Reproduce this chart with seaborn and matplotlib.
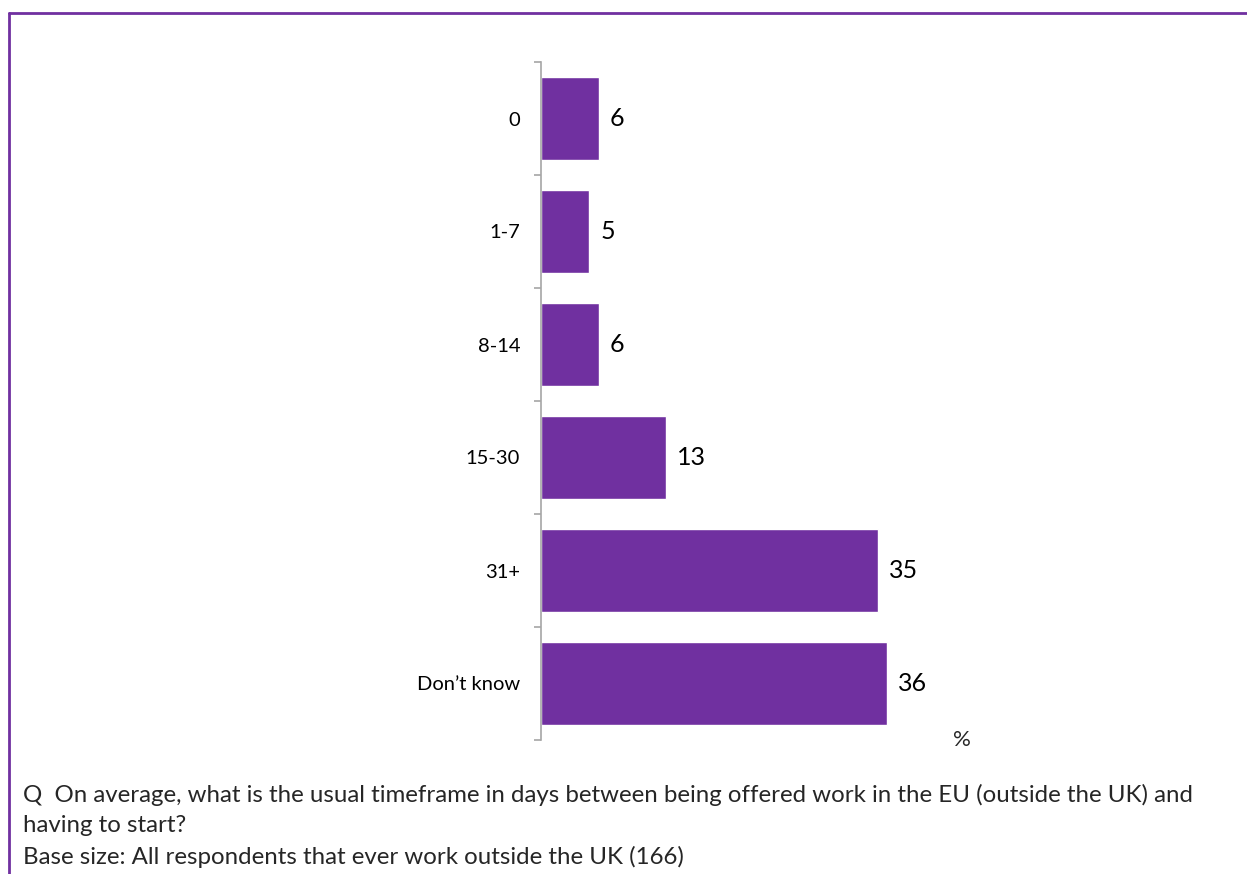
import numpy as np
import pandas as pd
import seaborn as sns
import matplotlib.pyplot as plt
from matplotlib.lines import Line2D

# data
categories = ['0', '1-7', '8-14', '15-30', '31+', 'Don\u2019t know']
values = [6, 5, 6, 13, 35, 36]

df = pd.DataFrame({'Days': categories, 'Percent': values})

sns.set_theme(style='white')
plt.rcParams['font.family'] = ['Lato', 'DejaVu Sans']

fig = plt.figure(figsize=(12.47, 8.74), dpi=100)
ax = fig.add_axes([541 / 1247, 1 - 740 / 874, 459 / 1247, 678 / 874])

sns.barplot(data=df, x='Percent', y='Days', order=categories, color='#7030A0',
            saturation=1, width=0.73, ax=ax, orient='h')

ax.set_xlim(0, 459 / 9.62)
ax.set_ylim(len(categories) - 0.5, -0.5)
ax.set_xlabel('')
ax.set_ylabel('')
ax.set_xticks([])

for s in ['top', 'right', 'bottom']:
    ax.spines[s].set_visible(False)
ax.spines['left'].set_color('#A6A6A6')
ax.spines['left'].set_linewidth(1.2)

# category labels centred, tick marks at boundaries
ax.tick_params(axis='y', which='major', length=0, pad=15, labelsize=14.5, labelcolor='black')
ax.set_yticks(np.arange(-0.5, len(categories) + 0.5, 1), minor=True)
ax.tick_params(axis='y', which='minor', length=5, width=1.2, color='#A6A6A6', left=True)

for i, v in enumerate(values):
    ax.annotate(str(v), (v, i), xytext=(8, 0), textcoords='offset points',
                va='center', ha='left', fontsize=18, color='black')

fig.text(962 / 1247, 1 - 740 / 874, '%', ha='center', va='center', fontsize=16)

# caption
fig.text(23 / 1247, 1 - 795 / 874,
         'Q  On average, what is the usual timeframe in days between being offered work in the EU (outside the UK) and',
         ha='left', va='center', fontsize=17.3)
fig.text(23 / 1247, 1 - 826 / 874, 'having to start?', ha='left', va='center', fontsize=17.3)
fig.text(23 / 1247, 1 - 857 / 874, 'Base size: All respondents that ever work outside the UK (166)',
         ha='left', va='center', fontsize=17.3)

# purple frame
fig.add_artist(Line2D([8.5 / 1247, 1], [1 - 12.5 / 874, 1 - 12.5 / 874],
                      transform=fig.transFigure, color='#7030A0', lw=2))
fig.add_artist(Line2D([8.5 / 1247, 8.5 / 1247], [1 - 12.5 / 874, 0],
                      transform=fig.transFigure, color='#7030A0', lw=2))

fig.savefig('out.png', dpi=100)
